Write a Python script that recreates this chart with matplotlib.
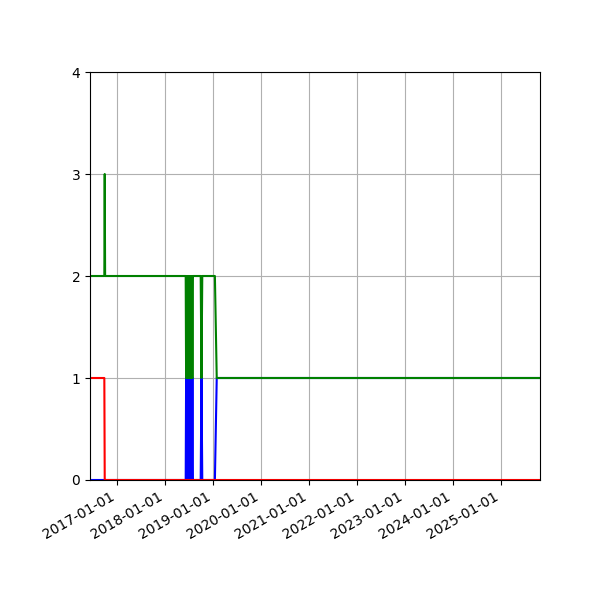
import matplotlib
matplotlib.use("Agg")
import matplotlib.pyplot as plt
import matplotlib.dates as mdates
import pandas as pd

# Shared event dates
dates = [
    "2016-06-10", "2016-09-27", "2016-09-30", "2016-10-03",
    "2018-06-08", "2018-06-11", "2018-06-14", "2018-06-17", "2018-06-20",
    "2018-06-23", "2018-06-26", "2018-06-29", "2018-07-02", "2018-07-05",
    "2018-07-08", "2018-07-11", "2018-07-14", "2018-07-17", "2018-07-20",
    "2018-07-23", "2018-07-26", "2018-07-29", "2018-08-01", "2018-08-04",
    "2018-09-30", "2018-10-06", "2018-10-12",
    "2019-01-16", "2019-01-30", "2025-10-24",
]
red_vals = [1, 1, 0, 0,
            0, 0, 0, 0, 0, 0, 0, 0, 0, 0, 0, 0, 0, 0, 0, 0, 0, 0, 0, 0,
            0, 0, 0,
            0, 0, 0]
blue_vals = [0, 0, 0, 0,
             0, 1, 0, 1, 0, 1, 0, 1, 0, 1, 0, 1, 0, 1, 0, 1, 0, 1, 0, 0,
             0, 1, 0,
             0, 1, 1]
green_vals = [2, 2, 3, 2,
              2, 1, 2, 1, 2, 1, 2, 1, 2, 1, 2, 1, 2, 1, 2, 1, 2, 1, 2, 2,
              2, 1, 2,
              2, 1, 1]
y_ticks = [0, 1, 2, 3, 4]

x = pd.to_datetime(dates)

fig = plt.figure(figsize=(6, 6), dpi=100)
ax = fig.add_subplot(111)
ax.plot(x, blue_vals, color="blue", lw=1.5)
ax.plot(x, red_vals, color="red", lw=1.5)
ax.plot(x, green_vals, color="green", lw=1.5)

ax.set_ylim(0, 4)
ax.set_yticks(y_ticks)
ax.set_xlim(x.min(), x.max())
ax.xaxis.set_major_locator(mdates.YearLocator())
ax.xaxis.set_major_formatter(mdates.DateFormatter("%Y-%m-%d"))
ax.grid(True)
fig.autofmt_xdate()
fig.subplots_adjust(left=0.15, right=0.9, top=0.88, bottom=0.2)
fig.savefig("out.png", dpi=100)
